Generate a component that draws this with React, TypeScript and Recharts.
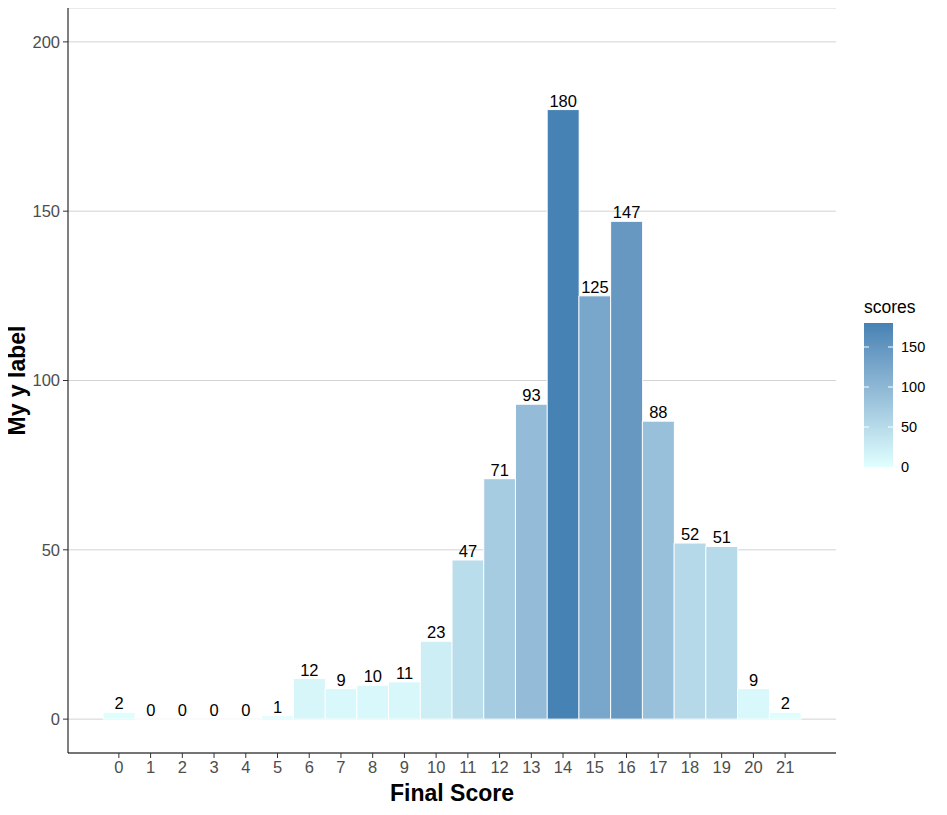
import React from 'react';
import { BarChart, Bar, XAxis, YAxis, CartesianGrid, Cell, LabelList } from 'recharts';

const scores = [0, 1, 2, 3, 4, 5, 6, 7, 8, 9, 10, 11, 12, 13, 14, 15, 16, 17, 18, 19, 20, 21];
const counts = [2, 0, 0, 0, 0, 1, 12, 9, 10, 11, 23, 47, 71, 93, 180, 125, 147, 88, 52, 51, 9, 2];
const yTicks = [0, 50, 100, 150, 200];
const legendTicks = [0, 50, 100, 150];

const LOW = '#E0FFFF';
const HIGH = '#4682B4';
const FONT = '"Liberation Sans", Arial, sans-serif';

// ggplot-style gradient, interpolated in CIE Lab
const toLin = (c: number) => (c <= 0.04045 ? c / 12.92 : Math.pow((c + 0.055) / 1.055, 2.4));
const fromLin = (c: number) => (c <= 0.0031308 ? 12.92 * c : 1.055 * Math.pow(c, 1 / 2.4) - 0.055);
const WX = 0.95047, WY = 1, WZ = 1.08883;

function hexToLab(hex: string) {
  const r = toLin(parseInt(hex.slice(1, 3), 16) / 255);
  const g = toLin(parseInt(hex.slice(3, 5), 16) / 255);
  const b = toLin(parseInt(hex.slice(5, 7), 16) / 255);
  const X = (0.4124 * r + 0.3576 * g + 0.1805 * b) / WX;
  const Y = (0.2126 * r + 0.7152 * g + 0.0722 * b) / WY;
  const Z = (0.0193 * r + 0.1192 * g + 0.9505 * b) / WZ;
  const f = (t: number) => (t > 0.008856 ? Math.cbrt(t) : 7.787 * t + 16 / 116);
  const fx = f(X), fy = f(Y), fz = f(Z);
  return [116 * fy - 16, 500 * (fx - fy), 200 * (fy - fz)];
}

function labToHex([L, a, b]: number[]) {
  const fy = (L + 16) / 116;
  const fx = fy + a / 500;
  const fz = fy - b / 200;
  const inv = (t: number) => (t * t * t > 0.008856 ? t * t * t : (t - 16 / 116) / 7.787);
  const X = inv(fx) * WX, Y = inv(fy) * WY, Z = inv(fz) * WZ;
  const r = 3.2406 * X - 1.5372 * Y - 0.4986 * Z;
  const g = -0.9689 * X + 1.8758 * Y + 0.0415 * Z;
  const bb = 0.0557 * X - 0.204 * Y + 1.057 * Z;
  const h = (c: number) => {
    const v = Math.round(Math.min(1, Math.max(0, fromLin(c))) * 255);
    return v.toString(16).padStart(2, '0');
  };
  return `#${h(r)}${h(g)}${h(bb)}`;
}

const lowLab = hexToLab(LOW);
const highLab = hexToLab(HIGH);
const maxCount = Math.max(...counts);
const colorFor = (v: number) => {
  const t = v / maxCount;
  return labToHex(lowLab.map((l, i) => l + (highLab[i] - l) * t));
};

const data = scores.map((s, i) => ({ score: String(s), count: counts[i] }));

const BarShape = (p: any) => {
  const { x, y, width, height, fill } = p;
  return (
    <path
      d={`M${x},${y}h${width}v${height}h${-width}Z`}
      fill={fill}
      stroke="#ffffff"
      strokeWidth={1}
    />
  );
};

const YTitle = ({ viewBox }: any) => {
  const cx = viewBox.x + 9;
  const cy = viewBox.y + viewBox.height / 2;
  return (
    <text
      x={cx}
      y={cy}
      transform={`rotate(-90 ${cx} ${cy})`}
      textAnchor="middle"
      dominantBaseline="central"
      fontSize={23}
      fontWeight="bold"
      fill="#000"
      fontFamily={FONT}
    >
      My y label
    </text>
  );
};

const XTitle = ({ viewBox }: any) => (
  <text
    x={viewBox.x + viewBox.width / 2}
    y={viewBox.y + 40}
    textAnchor="middle"
    dominantBaseline="central"
    fontSize={23}
    fontWeight="bold"
    fill="#000"
    fontFamily={FONT}
  >
    Final Score
  </text>
);

function ColorLegend() {
  const x0 = 864, w = 29, top = 323, h = 144;
  const yOf = (v: number) => top + h - (v / maxCount) * h;
  const stops = Array.from({ length: 11 }, (_, i) => i / 10);
  return (
    <svg width={947} height={815} style={{ position: 'absolute', left: 0, top: 0, pointerEvents: 'none' }}>
      <defs>
        <linearGradient id="scoresGrad" x1="0" y1="1" x2="0" y2="0">
          {stops.map((t) => (
            <stop key={t} offset={`${t * 100}%`} stopColor={colorFor(t * maxCount)} />
          ))}
        </linearGradient>
      </defs>
      <text x={x0} y={313} fontSize={17.5} fill="#000" fontFamily={FONT}>scores</text>
      <rect x={x0} y={top} width={w} height={h} fill="url(#scoresGrad)" />
      {legendTicks.map((v) => (
        <g key={v}>
          {v > 0 && (
            <>
              <line x1={x0} x2={x0 + 5} y1={yOf(v)} y2={yOf(v)} stroke="#fff" strokeWidth={1} />
              <line x1={x0 + w - 5} x2={x0 + w} y1={yOf(v)} y2={yOf(v)} stroke="#fff" strokeWidth={1} />
            </>
          )}
          <text x={901} y={yOf(v)} dominantBaseline="central" fontSize={14.5} fill="#000" fontFamily={FONT}>
            {v}
          </text>
        </g>
      ))}
    </svg>
  );
}

export default function App() {
  return (
    <div style={{ position: 'relative', width: 947, height: 815, margin: -8, background: '#fff', fontFamily: FONT }}>
      <div style={{ position: 'absolute', left: 0, top: 0, width: 947, height: 1, background: '#000' }} />
      <BarChart
        width={947}
        height={815}
        data={data}
        margin={{ top: 8, right: 111, bottom: 32, left: 8 }}
        barCategoryGap={0}
      >
        <CartesianGrid vertical={false} stroke="#D3D3D3" strokeWidth={1} />
        <XAxis
          dataKey="score"
          type="category"
          interval={0}
          height={30}
          padding={{ left: 35, right: 35 }}
          axisLine={{ stroke: '#000', strokeWidth: 1 }}
          tickLine={{ stroke: '#333' }}
          tickSize={5}
          tickMargin={3}
          tick={{ fill: '#4D4D4D', fontSize: 16.5, fontFamily: FONT }}
          label={<XTitle />}
        />
        <YAxis
          type="number"
          domain={[-10, 210]}
          ticks={yTicks}
          allowDataOverflow
          width={60}
          axisLine={{ stroke: '#000', strokeWidth: 1 }}
          tickLine={{ stroke: '#333' }}
          tickSize={5}
          tickMargin={3}
          tick={{ fill: '#4D4D4D', fontSize: 16.5, fontFamily: FONT }}
          label={<YTitle />}
        />
        <Bar dataKey="count" isAnimationActive={false} shape={<BarShape />}>
          {data.map((d) => (
            <Cell key={d.score} fill={colorFor(d.count)} />
          ))}
          <LabelList dataKey="count" position="top" offset={3} fill="#000" fontSize={16.5} fontFamily={FONT} />
        </Bar>
      </BarChart>
      <ColorLegend />
    </div>
  );
}
